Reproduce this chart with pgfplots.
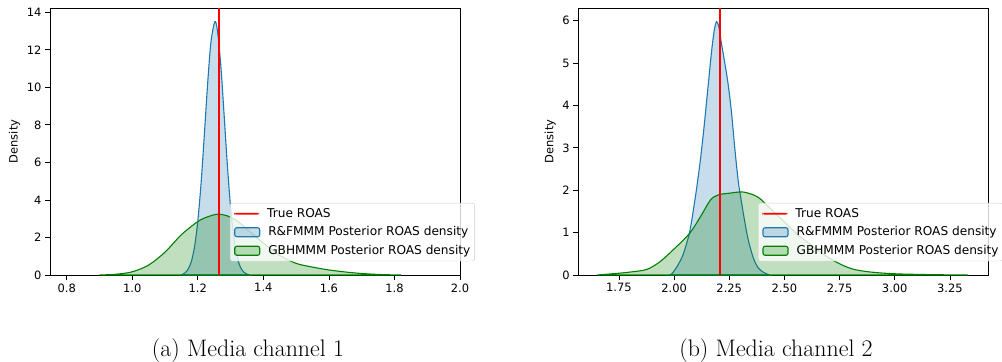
\documentclass[border=0pt]{standalone}
\usepackage{fontspec}
\usepackage{pgfplots}
\pgfplotsset{compat=1.18}
\newfontfamily\djv{DejaVu Sans}
\definecolor{tabblue}{HTML}{1F77B4}
\definecolor{mplgreen}{HTML}{008000}
\definecolor{legframe}{HTML}{CCCCCC}
\newcommand{\plotfont}{\djv\fontsize{11.5}{13}\selectfont}
\newcommand{\legfont}{\djv\fontsize{12.2}{14}\selectfont}
\newcommand{\ls}{\rule[-2.3bp]{0pt}{11bp}}
\newcommand{\redimg}{\tikz[baseline={(0,-3.6bp)}]\fill[fill=red,fill opacity=1,opacity=1] (0bp,-0.9bp) rectangle (25bp,0.9bp);}
\newcommand{\areaimg}[1]{\tikz[baseline={(0,-3.6bp)}]\draw[draw=#1,fill=#1,fill opacity=0.25,line width=1.1bp] (0bp,-4.5bp) rectangle (25bp,4.5bp);}

\pgfplotsset{
 kdeaxis/.style={
  scale only axis, width=410bp, height=267bp,
  axis line style={line width=0.8bp},
  tick pos=left, tick align=outside, major tick length=5bp,
  every tick/.style={black, line width=0.8bp},
  ymin=0,
  /pgf/number format/assume math mode=true,
  ticklabel style={font=\plotfont},
  label style={font=\plotfont},
  ylabel={Density},
  legend style={at={(0.439,0.27)}, anchor=north west, draw=legframe,
    rounded corners=2bp, fill=white, fill opacity=0.8, text opacity=1,
    font=\legfont, inner xsep=2bp, inner ysep=3.2bp, row sep=3.8bp,
    cells={anchor=west}},
  legend cell align=left,
 },
 bluekde/.style={draw=tabblue, fill=tabblue, fill opacity=0.25, line width=1.1bp, smooth, forget plot},
 greenkde/.style={draw=mplgreen, fill=mplgreen, fill opacity=0.25, line width=1.1bp, smooth, forget plot},
 truel/.style={draw=red, line width=1.6bp, forget plot},
 nolegimg/.style={legend image code/.code={}},
}

\begin{document}
\begin{tikzpicture}
\path[use as bounding box] (0,0) rectangle (1002bp,-362bp);

% ---------------- Panel (a)
\begin{axis}[kdeaxis, at={(50bp,-275bp)}, anchor=south west,
  xmin=0.749, xmax=2.0, ymax=14.23,
  xtick={0.8,1.0,1.2,1.4,1.6,1.8,2.0},
  xticklabel style={/pgf/number format/.cd, fixed, fixed zerofill, precision=1},
  ytick={0,2,4,6,8,10,12,14}]
\addlegendimage{nolegimg}
\addlegendentry{\redimg\hspace{8bp}\ls True ROAS}
\addlegendimage{nolegimg}
\addlegendentry{\areaimg{tabblue}\hspace{8bp}\ls R\&FMMM Posterior ROAS density}
\addlegendimage{nolegimg}
\addlegendentry{\areaimg{mplgreen}\hspace{8bp}\ls GBHMMM Posterior ROAS density}

\addplot[bluekde] coordinates {
(1.150,0.00) (1.160,0.10) (1.170,0.30) (1.180,0.70) (1.190,1.50) (1.200,2.88)
(1.210,4.90) (1.220,7.50) (1.230,10.20) (1.240,12.40) (1.252,13.50)
(1.260,13.00) (1.270,11.20) (1.280,8.60) (1.290,5.90) (1.300,3.62)
(1.310,1.98) (1.320,0.96) (1.330,0.42) (1.340,0.16) (1.350,0.05) (1.356,0.00)
} \closedcycle;

\addplot[greenkde] coordinates {
(0.90,0.00) (0.95,0.04) (1.00,0.17) (1.05,0.53) (1.10,1.22) (1.15,2.15)
(1.20,2.85) (1.23,3.10) (1.26,3.24) (1.29,3.15) (1.32,2.88) (1.35,2.45)
(1.40,1.70) (1.45,1.05) (1.50,0.62) (1.55,0.42) (1.60,0.27) (1.65,0.16)
(1.70,0.08) (1.75,0.03) (1.80,0.005) (1.82,0.00)
} \closedcycle;

\addplot[truel] coordinates {(1.265,0) (1.265,14.23)};
\end{axis}

% ---------------- Panel (b)
\begin{axis}[kdeaxis, at={(578.3bp,-275bp)}, anchor=south west,
  xmin=1.566, xmax=3.424, ymax=6.30,
  xtick={1.75,2.00,2.25,2.50,2.75,3.00,3.25},
  xticklabel style={/pgf/number format/.cd, fixed, fixed zerofill, precision=2},
  ytick={0,1,2,3,4,5,6}]
\addlegendimage{nolegimg}
\addlegendentry{\redimg\hspace{8bp}\ls True ROAS}
\addlegendimage{nolegimg}
\addlegendentry{\areaimg{tabblue}\hspace{8bp}\ls R\&FMMM Posterior ROAS density}
\addlegendimage{nolegimg}
\addlegendentry{\areaimg{mplgreen}\hspace{8bp}\ls GBHMMM Posterior ROAS density}

\addplot[bluekde] coordinates {
(1.980,0.00) (1.990,0.03) (2.010,0.17) (2.040,0.47) (2.070,1.00) (2.090,1.62)
(2.105,2.15) (2.120,2.75) (2.135,3.45) (2.155,4.50) (2.170,5.28) (2.183,5.80)
(2.193,5.98) (2.203,5.85) (2.215,5.45) (2.230,5.00) (2.245,4.50) (2.260,3.85)
(2.275,3.00) (2.290,2.25) (2.300,1.90) (2.315,1.42) (2.336,0.83) (2.360,0.39)
(2.380,0.18) (2.400,0.08) (2.430,0.00)
} \closedcycle;

\addplot[greenkde] coordinates {
(1.650,0.00) (1.700,0.02) (1.785,0.06) (1.875,0.13) (1.935,0.31) (1.995,0.59)
(2.070,0.98) (2.120,1.38) (2.165,1.77) (2.200,1.89) (2.250,1.93) (2.310,1.96)
(2.360,1.89) (2.390,1.80) (2.420,1.65) (2.460,1.45) (2.510,1.20) (2.560,0.95)
(2.610,0.75) (2.660,0.55) (2.710,0.38) (2.760,0.24) (2.810,0.14) (2.860,0.09)
(2.910,0.06) (2.960,0.04) (3.020,0.025) (3.100,0.015) (3.200,0.006) (3.330,0.00)
} \closedcycle;

\addplot[truel] coordinates {(2.209,0) (2.209,6.30)};
\end{axis}

\node[font=\fontsize{24}{28}\selectfont, anchor=base] at (248bp,-356bp) {(a) Media channel 1};
\node[font=\fontsize{24}{28}\selectfont, anchor=base] at (776bp,-356bp) {(b) Media channel 2};
\end{tikzpicture}
\end{document}
